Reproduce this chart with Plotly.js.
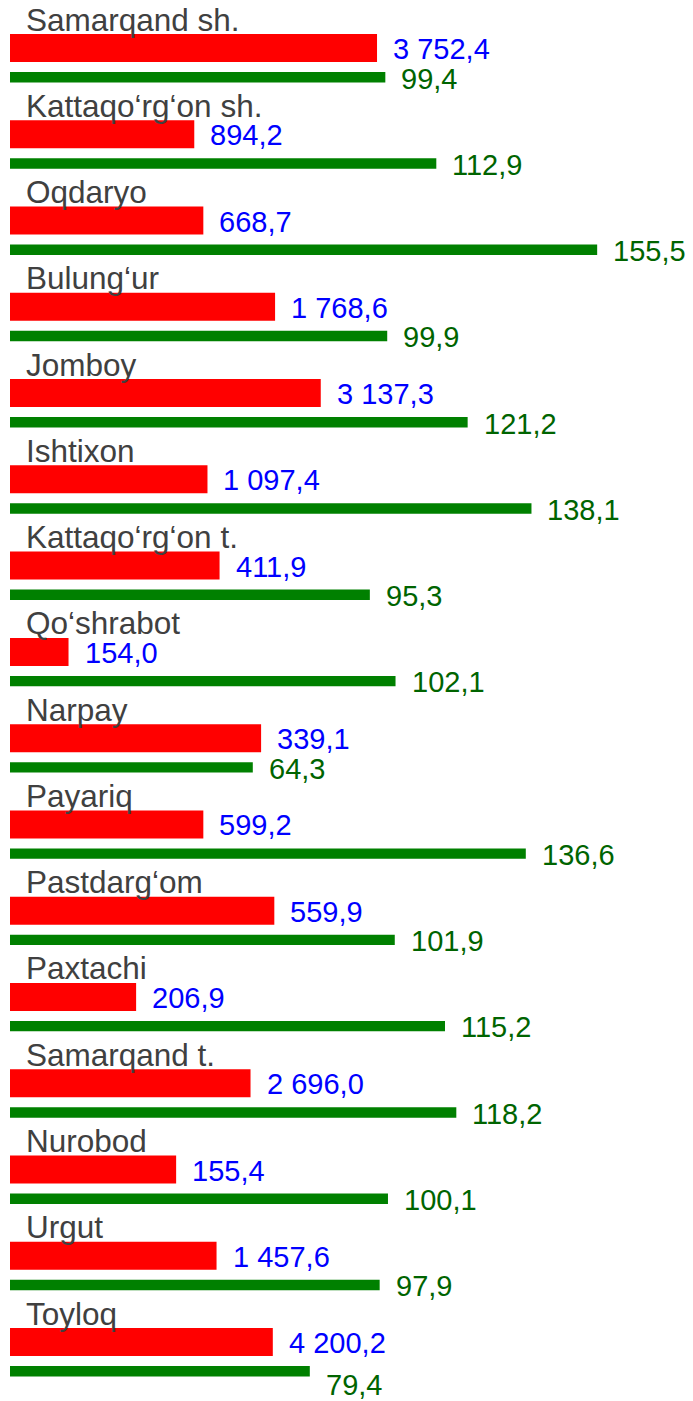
<!DOCTYPE html>
<html>
<head>
<meta charset="utf-8">
<script src="https://cdn.plot.ly/plotly-3.0.1.min.js"></script>
<style>
  html, body { margin: 0; padding: 0; background: #ffffff; }
  #chart { width: 693px; height: 1401px; }
</style>
</head>
<body>
<div id="chart"></div>
<script>
// ---- data ----
const categories = [
  'Samarqand sh.', 'Kattaqo‘rg‘on sh.', 'Oqdaryo', 'Bulung‘ur', 'Jomboy',
  'Ishtixon', 'Kattaqo‘rg‘on t.', 'Qo‘shrabot', 'Narpay', 'Payariq',
  'Pastdarg‘om', 'Paxtachi', 'Samarqand t.', 'Nurobod', 'Urgut', 'Toyloq'
];
// values printed next to the red bars
const redValues = [3752.4, 894.2, 668.7, 1768.6, 3137.3, 1097.4, 411.9, 154.0,
                   339.1, 599.2, 559.9, 206.9, 2696.0, 155.4, 1457.6, 4200.2];
// red bar lengths as drawn (estimated, same scale as the green bars)
const redBarLength = [97.2, 48.8, 51.2, 70.2, 82.3, 52.3, 55.5, 15.5,
                      66.5, 51.2, 70.0, 33.4, 63.7, 44.0, 54.7, 69.6];
// values of the green bars (growth, %)
const greenValues = [99.4, 112.9, 155.5, 99.9, 121.2, 138.1, 95.3, 102.1,
                     64.3, 136.6, 101.9, 115.2, 118.2, 100.1, 97.9, 79.4];

// ---- formatting ----
function fmt(v) {
  const parts = v.toFixed(1).split('.');
  const intPart = parts[0].replace(/\B(?=(\d{3})+(?!\d))/g, ' ');
  return intPart + ',' + parts[1];
}

// ---- layout constants (pixels) ----
const PERIOD = 86.27;           // px per category
const FONT = 'Liberation Sans, Arial, sans-serif';
const u = px => px / PERIOD;    // px -> category units

const redTrace = {
  type: 'bar', orientation: 'h',
  y: categories, x: redBarLength,
  marker: { color: '#ff0000', line: { width: 0 } },
  offset: u(-14), width: u(28),
  hoverinfo: 'skip'
};
const greenTrace = {
  type: 'bar', orientation: 'h',
  y: categories, x: greenValues,
  marker: { color: '#008000', line: { width: 0 } },
  offset: u(29.2 - 5.2), width: u(10.4),
  hoverinfo: 'skip'
};

const annotations = [];
const last = categories.length - 1;
categories.forEach((c, i) => {
  annotations.push({
    x: 0, y: c, xref: 'x', yref: 'y',
    text: c, showarrow: false, xanchor: 'left', yanchor: 'middle',
    xshift: 14, yshift: 28.5,
    font: { family: FONT, size: 31.5, color: '#404040' }
  });
  annotations.push({
    x: redBarLength[i], y: c, xref: 'x', yref: 'y',
    text: fmt(redValues[i]), showarrow: false, xanchor: 'left', yanchor: 'middle',
    xshift: 14, yshift: -1,
    font: { family: FONT, size: 29, color: '#0000ff' }
  });
  annotations.push({
    x: greenValues[i], y: c, xref: 'x', yref: 'y',
    text: fmt(greenValues[i]), showarrow: false, xanchor: 'left', yanchor: 'middle',
    xshift: 14, yshift: (i === last) ? -43 : -30.5,
    font: { family: FONT, size: 29, color: '#006400' }
  });
});

const layout = {
  width: 693, height: 1401,
  margin: { l: 10, r: 0, t: 0, b: 0, pad: 0 },
  paper_bgcolor: '#ffffff', plot_bgcolor: '#ffffff',
  showlegend: false,
  barmode: 'overlay',
  hovermode: false,
  xaxis: {
    range: [0, 683 / 3.776],
    showgrid: false, zeroline: false, showticklabels: false, showline: false, ticks: ''
  },
  yaxis: {
    type: 'category',
    categoryorder: 'array', categoryarray: categories,
    range: [(1401 - 48) / PERIOD, -48 / PERIOD],
    showgrid: false, zeroline: false, showticklabels: false, showline: false, ticks: ''
  },
  annotations: annotations,
  font: { family: FONT }
};

Plotly.newPlot('chart', [redTrace, greenTrace], layout, { displayModeBar: false, staticPlot: true });
</script>
</body>
</html>
